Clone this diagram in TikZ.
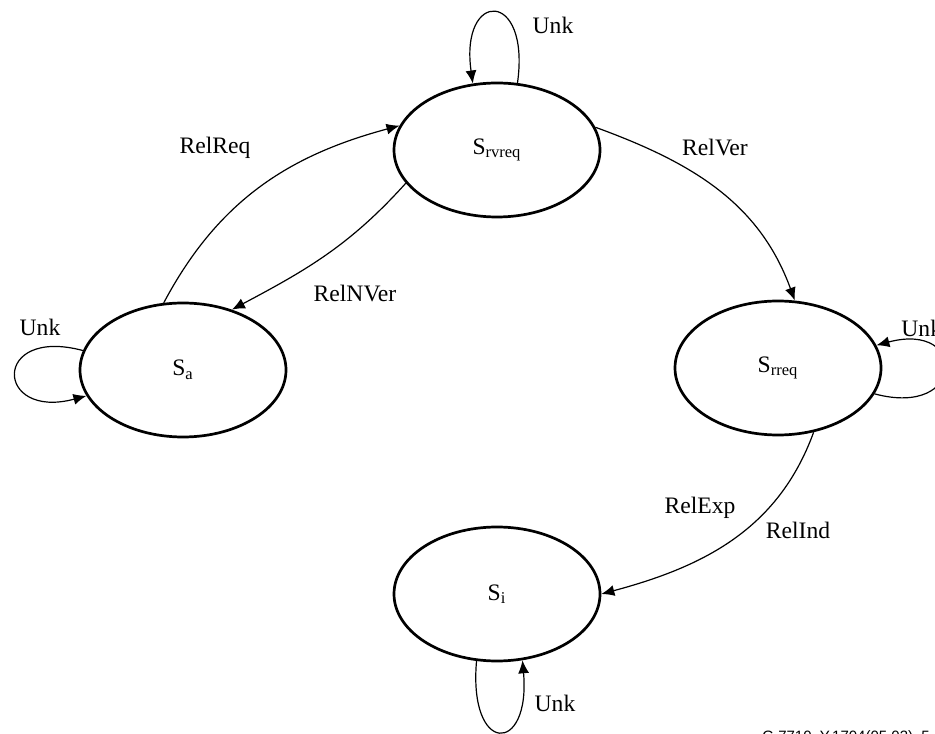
\documentclass[tikz,border=0pt]{standalone}
\usepackage{fontspec}
\setmainfont{Liberation Serif}
\newfontfamily\tagfont{Liberation Sans}
\usetikzlibrary{positioning,shapes.geometric,arrows.meta}

\begin{document}
\begin{tikzpicture}[
    x=0.5pt, y=0.5pt,
    font=\fontsize{11.8}{14}\selectfont,
    st/.style={ellipse, draw, line width=1.35pt, minimum width=103pt, minimum height=67pt, inner sep=0pt},
    fl/.style={-{Latex[length=6.5pt,width=5.5pt]}, line width=0.6pt},
    lb/.style={inner sep=1pt},
]
    \useasboundingbox (0,0) rectangle (935,733);
    \node[st] (rv) at (497,583) {S\textsubscript{rvreq}};
    \node[st, on grid, below left=110pt and 157pt of rv] (sa) {S\textsubscript{a}};
    \node[st, on grid, below right=109pt and 140.5pt of rv] (rr) {S\textsubscript{rreq}};
    \node[st, on grid, below=222pt of rv] (si) {S\textsubscript{i}};
    \draw[fl] (sa.106) to[out=62, in=195] (rv.166);
    \draw[fl] (rv.200) to[out=228, in=28] (sa.51);
    \draw[fl] (rv.13) to[out=-20, in=110] (rr.76);
    \draw[fl] (rr.-61) to[out=250, in=15] (si.0);
    \draw[fl] (rv.73) .. controls +(82:95) and +(98:95) .. (rv.110);
    \draw[fl] (sa.169) .. controls +(165:95) and +(195:95) .. (sa.195);
    \draw[fl] (rr.-15.5) .. controls +(-15:95) and +(15:95) .. (rr.13);
    \draw[fl] (si.253) .. controls +(265:95) and +(275:95) .. (si.291);
    \node[lb] (req) at (215,585) {RelReq};
    \node[lb] (nver) at (355,440) {RelNVer};
    \node[lb] (ver) at (715,586) {RelVer};
    \node[lb] (exp) at (700,225) {RelExp};
    \node[lb] (ind) at (798,203) {RelInd};
    \node[lb] (u1) at (553,708) {Unk};
    \node[lb] (u2) at (40,406) {Unk};
    \node[lb, anchor=west] (u3) at (899,405) {Unk};
    \node[lb] (u4) at (555,30) {Unk};
    \node[anchor=north west, inner sep=0pt, font=\tagfont\fontsize{7.5}{9}\selectfont] (tag) at (762,3) {G.7710\_Y.1704(05.03)\_5};
\end{tikzpicture}
\end{document}
